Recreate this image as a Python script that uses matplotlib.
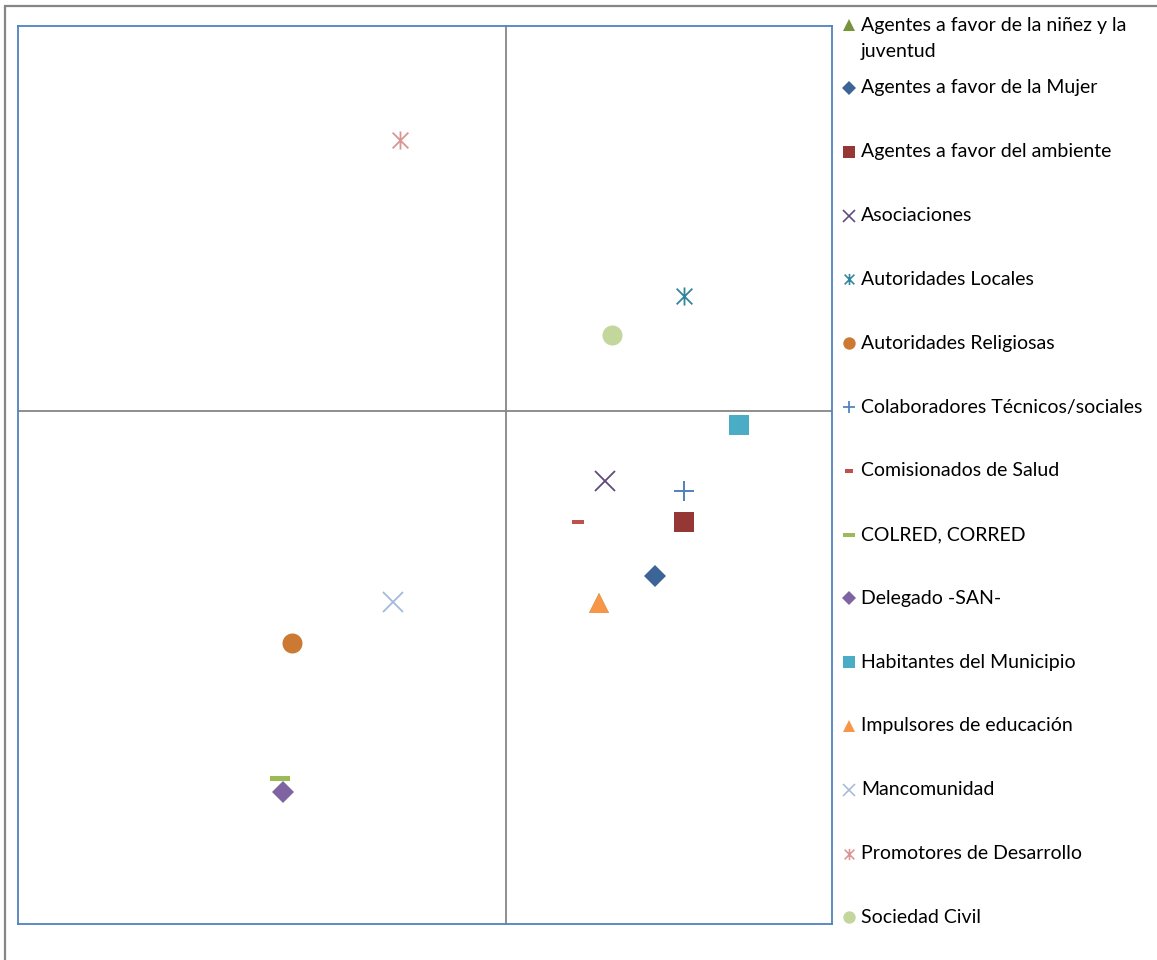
import matplotlib
matplotlib.use("Agg")
import matplotlib.pyplot as plt
from matplotlib.lines import Line2D
from matplotlib.patches import Rectangle
from matplotlib.path import Path

plt.rcParams['font.family'] = ['Lato', 'DejaVu Sans']

labels = [
    "Agentes a favor de la niñez y la\njuventud",
    "Agentes a favor de la Mujer",
    "Agentes a favor del ambiente",
    "Asociaciones",
    "Autoridades Locales",
    "Autoridades Religiosas",
    "Colaboradores Técnicos/sociales",
    "Comisionados de Salud",
    "COLRED, CORRED",
    "Delegado -SAN-",
    "Habitantes del Municipio",
    "Impulsores de educación",
    "Mancomunidad",
    "Promotores de Desarrollo",
    "Sociedad Civil",
]
x_vals = [0.283, 0.455, 0.544, 0.302, 0.544, -0.657, 0.544, 0.219, -0.696, -0.687,
          0.713, 0.283, -0.347, -0.328, 0.323]
y_vals = [-0.374, -0.322, -0.216, -0.136, 0.224, -0.452, -0.156, -0.216, -0.715, -0.743,
          -0.027, -0.374, -0.372, 0.528, 0.148]
colors = ["#77933C", "#3C6496", "#953735", "#604A7B", "#31859C", "#CC7A33",
          "#4F81BD", "#C0504D", "#9BBB59", "#8064A2", "#4BACC6", "#F79646",
          "#A5B9DB", "#D99694", "#C3D69B"]

star = Path([(-1, -1), (1, 1), (-1, 1), (1, -1), (0, -1.15), (0, 1.15)],
            [Path.MOVETO, Path.LINETO, Path.MOVETO, Path.LINETO, Path.MOVETO, Path.LINETO])
dash_long = [(-1, -0.25), (1, -0.25), (1, 0.25), (-1, 0.25), (-1, -0.25)]
dash_short = [(-1, -0.42), (1, -0.42), (1, 0.42), (-1, 0.42), (-1, -0.42)]

# (marker, size, filled, edge width)
styles = [
    ('^', 14.4, True, 0),
    ('D', 11.0, True, 0),
    ('s', 14.4, True, 0),
    ('x', 14.0, False, 1.3),
    (star, 13.0, False, 1.3),
    ('o', 14.4, True, 0),
    ('+', 14.0, False, 1.4),
    (dash_short, 8.5, True, 0),
    (dash_long, 14.4, True, 0),
    ('D', 11.0, True, 0),
    ('s', 14.4, True, 0),
    ('^', 14.4, True, 0),
    ('x', 14.0, False, 1.3),
    (star, 13.0, False, 1.3),
    ('o', 14.4, True, 0),
]

W, H = 1157, 960
fig = plt.figure(figsize=(W / 100, H / 100), dpi=100)
ax = fig.add_axes([18 / W, 1 - 924 / H, (832 - 18) / W, (924 - 26) / H])
ax.set_xlim(-1.5, 1.0)
ax.set_ylim(-1.0, 0.75)
ax.axvline(0, color="#868686", lw=1.3, zorder=1)
ax.axhline(0, color="#868686", lw=1.3, zorder=1)
for s in ax.spines.values():
    s.set_color("#4F81BD")
    s.set_linewidth(1.3)
ax.set_xticks([])
ax.set_yticks([])

for lab, x, y, c, (m, ms, filled, mew) in zip(labels, x_vals, y_vals, colors, styles):
    ax.plot([x], [y], linestyle='none', marker=m, markersize=ms, color=c,
            markeredgewidth=(0 if filled else mew), zorder=3)

# outer chart border
fig.add_artist(Rectangle((5 / W, -0.1), 1.2, 1 - 6 / H + 0.1, transform=fig.transFigure,
                         fill=False, edgecolor="#868686", lw=1.6))

# legend
ys = [25] + [88 + 63.8 * i for i in range(14)]
for i, (lab, c, (m, ms, filled, mew)) in enumerate(zip(labels, colors, styles)):
    yp = ys[i]
    scale = 0.62
    kw = dict(linestyle='none', marker=m, markersize=ms * scale, color=c,
              markeredgewidth=(0 if filled else mew * 0.9), transform=fig.transFigure)
    fig.add_artist(Line2D([849 / W], [1 - yp / H], **kw))
    if i == 0:
        fig.text(861 / W, 1 - (yp + 13.5) / H, lab, fontsize=14, va='center',
                 ha='left', color='black', linespacing=1.6)
    else:
        fig.text(861 / W, 1 - yp / H, lab, fontsize=14, va='center',
                 ha='left', color='black')

fig.savefig("out.png", dpi=100)
